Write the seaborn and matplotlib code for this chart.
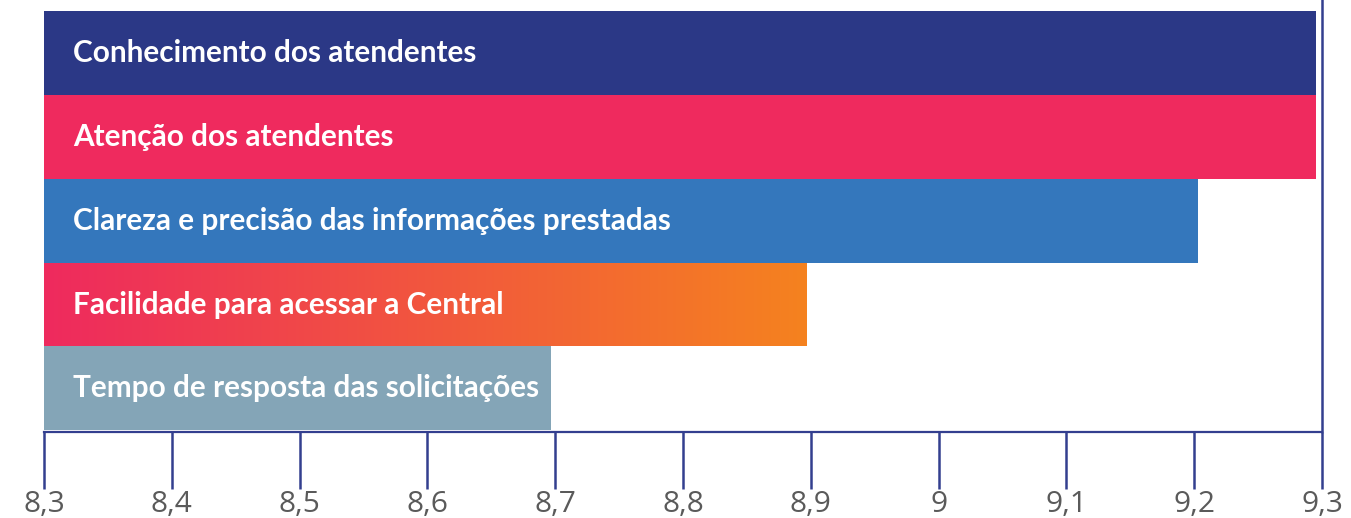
import numpy as np
import pandas as pd
import matplotlib
matplotlib.use("Agg")
import matplotlib.pyplot as plt
import matplotlib.transforms as mtransforms
from matplotlib.colors import LinearSegmentedColormap
import seaborn as sns

# data
items = [
    "Conhecimento dos atendentes",
    "Atenção dos atendentes",
    "Clareza e precisão das informações prestadas",
    "Facilidade para acessar a Central",
    "Tempo de resposta das solicitações",
]
notas = [9.295, 9.295, 9.203, 8.897, 8.697]
colors = ["#2B3886", "#EF2A5E", "#3477BC", "#F05A4A", "#84A5B7"]
tick_vals = [8.3, 8.4, 8.5, 8.6, 8.7, 8.8, 8.9, 9.0, 9.1, 9.2, 9.3]
tick_labels = ["8,3", "8,4", "8,5", "8,6", "8,7", "8,8", "8,9", "9", "9,1", "9,2", "9,3"]
grad_item = "Facilidade para acessar a Central"
grad_colors = ["#EE2A5E", "#F5821F"]

AXIS_COL = "#333F8F"

df = pd.DataFrame({"item": items, "nota": notas})

sns.set_style("white")
plt.rcParams["font.family"] = ["Open Sans", "DejaVu Sans"]

fig = plt.figure(figsize=(13.51, 5.18), dpi=100)
ax = fig.add_axes([44 / 1351, 1 - 432 / 518, 1278 / 1351, 421 / 518])

sns.barplot(data=df, x="nota", y="item", hue="item", palette=colors,
            orient="h", width=1.0, legend=False, ax=ax, saturation=1,
            linewidth=0)

# gradient fill for one bar
gi = items.index(grad_item)
patch = ax.patches[gi]
cmap = LinearSegmentedColormap.from_list("grad", grad_colors)
grad = np.linspace(0, 1, 256).reshape(1, -1)
im = ax.imshow(grad, cmap=cmap, aspect="auto",
               extent=[8.3, notas[gi], gi + 0.5, gi - 0.5],
               zorder=patch.get_zorder() + 0.1)
im.set_clip_path(patch)
ax.set_xlim(8.3, 9.3)
ax.set_ylim(4.52, -0.5)

# labels inside bars
trans = mtransforms.blended_transform_factory(ax.transAxes, ax.transData)
for i, name in enumerate(items):
    ax.text(29 / 1278, i, name, transform=trans, color="white", fontsize=21.4,
            fontweight="bold", va="center", ha="left", zorder=5,
            family=["Lato", "DejaVu Sans"])

# axes styling
for s in ["top", "left", "right"]:
    ax.spines[s].set_visible(False)
ax.spines["bottom"].set_color(AXIS_COL)
ax.spines["bottom"].set_linewidth(1.6)
ax.axvline(9.3, ymin=0, ymax=1.03, color=AXIS_COL, lw=1.8, clip_on=False, zorder=6)

ax.set_xticks(tick_vals)
ax.set_xticklabels(tick_labels)
ax.tick_params(axis="x", direction="out", length=41, width=1.8, color=AXIS_COL,
               labelsize=21.5, labelcolor="#5A5A5A", pad=1, bottom=True)
ax.set_yticks([])
ax.set_xlabel("")
ax.set_ylabel("")

fig.savefig("out.png", dpi=100)
